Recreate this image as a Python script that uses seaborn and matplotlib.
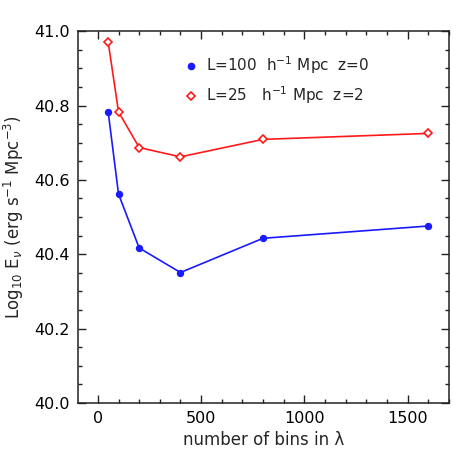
import matplotlib
matplotlib.use("Agg")
import matplotlib.pyplot as plt
import seaborn as sns
import pandas as pd
from matplotlib.lines import Line2D
from matplotlib.ticker import MultipleLocator

nbins = [50, 100, 200, 400, 800, 1600]
blue_vals = [40.782, 40.562, 40.417, 40.351, 40.443, 40.476]
red_vals = [40.970, 40.783, 40.687, 40.662, 40.709, 40.725]
label_blue = "L=100  h$^{-1}$ Mpc  z=0"
label_red = "L=25   h$^{-1}$ Mpc  z=2"

sns.set_style("ticks")
plt.rcParams['font.family'] = ['DejaVu Sans']
plt.rcParams['mathtext.fontset'] = 'dejavusans'

fig = plt.figure(figsize=(4.58, 4.58), dpi=100)
ax = fig.add_axes([0.170, 0.120, 0.810, 0.812])

df_b = pd.DataFrame({"x": nbins, "y": blue_vals})
df_r = pd.DataFrame({"x": nbins, "y": red_vals})

sns.lineplot(data=df_b, x="x", y="y", ax=ax, color="#1a1aff", lw=1.2,
             marker="o", markersize=4.5, markerfacecolor="#1a1aff",
             markeredgecolor="#1a1aff", markeredgewidth=0.8)
sns.lineplot(data=df_r, x="x", y="y", ax=ax, color="#ff1a1a", lw=1.2,
             marker="D", markersize=4, markerfacecolor="white",
             markeredgecolor="#ff1a1a", markeredgewidth=1.2)

ax.set_xlim(-97, 1700)
ax.set_ylim(40.0, 41.0)
ax.xaxis.set_major_locator(MultipleLocator(500))
ax.xaxis.set_minor_locator(MultipleLocator(100))
ax.yaxis.set_major_locator(MultipleLocator(0.2))
ax.yaxis.set_minor_locator(MultipleLocator(0.05))
ax.set_yticklabels([f"{v:.1f}" for v in ax.get_yticks()])
ax.tick_params(which="both", direction="in", top=True, right=True,
               width=1, color="#222222", labelsize=11.5, labelcolor="black")
ax.tick_params(which="major", length=6, pad=6)
ax.tick_params(which="minor", length=3)
for s in ax.spines.values():
    s.set_linewidth(1.1)
    s.set_color("#222222")

ax.set_xlabel("number of bins in λ", fontsize=12, labelpad=3)
ax.set_ylabel("Log$_{10}$ E$_\\nu$ (erg s$^{-1}$ Mpc$^{-3}$)", fontsize=12, labelpad=6)

handles = [
    Line2D([], [], ls="none", marker="o", markersize=4.5, color="#1a1aff"),
    Line2D([], [], ls="none", marker="D", markersize=4, markerfacecolor="white",
           markeredgecolor="#ff1a1a", markeredgewidth=1.2),
]
ax.legend(handles, [label_blue, label_red], loc="upper left",
          bbox_to_anchor=(0.255, 0.975), frameon=False, fontsize=11,
          handlelength=0.6, handletextpad=0.7, labelspacing=0.55)

fig.savefig("out.png", dpi=100)
